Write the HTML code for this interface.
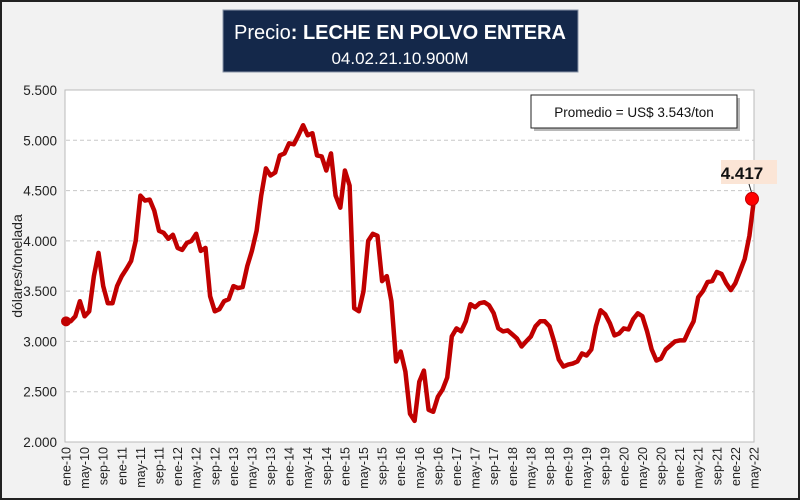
<!DOCTYPE html>
<html><head><meta charset="utf-8">
<style>
html,body{margin:0;padding:0;}
body{width:800px;height:500px;overflow:hidden;background:#f2f2f2;font-family:"Liberation Sans",sans-serif;}
#frame{position:absolute;left:0;top:0;width:796px;height:496px;border:2px solid #222;background:#f2f2f2;}
</style></head><body>
<div id="frame"></div>
<svg id="chart" width="800" height="500" style="position:absolute;left:0;top:0">
  <rect x="223" y="10" width="355" height="62" fill="#14284a" stroke="#8a95a8" stroke-width="1"/>
  <text x="400" y="39" text-anchor="middle" fill="#fff" font-size="20">Precio<tspan font-weight="bold">: LECHE EN POLVO ENTERA</tspan></text>
  <text x="400" y="64" text-anchor="middle" fill="#fff" font-size="17">04.02.21.10.900M</text>
  <rect x="65" y="90" width="689" height="352" fill="#fff" stroke="#bbb" stroke-width="1"/>
  <g id="grid"></g>
  <g id="yticks"></g>
  <g id="xticks"></g>
  <text transform="translate(22,266) rotate(-90)" text-anchor="middle" font-size="14" fill="#222">dólares/tonelada</text>
  <path id="line" fill="none" stroke="#c00000" stroke-width="4.5" stroke-linejoin="round"/>
  <rect x="534" y="98" width="206" height="33" fill="#888" opacity="0.6"/>
  <rect x="531" y="95" width="206" height="33" fill="#fff" stroke="#222" stroke-width="1"/>
  <text x="634" y="117" text-anchor="middle" font-size="13.5" fill="#111">Promedio = US$ 3.543/ton</text>
  <rect x="721" y="160" width="56" height="24" fill="#fbe5d6"/>
  <text id="lastlbl" x="742" y="179" text-anchor="middle" font-size="17" font-weight="bold" fill="#111"></text>
  <line id="leader" stroke="#222" stroke-width="1"/>
  <circle id="lastdot" r="6.5" fill="#ff0000" stroke="#c00000" stroke-width="1"/>
  <circle id="firstdot" r="5" fill="#c00000"/>
</svg>
<script>
const prices = [
3200,3200,3250,3400,3250,3300,3650,3880,3550,3380,3380,3550,
3650,3720,3800,4000,4450,4400,4410,4300,4100,4080,4020,4060,
3930,3910,3980,4000,4070,3900,3930,3450,3300,3320,3400,3420,
3550,3530,3540,3750,3900,4100,4450,4720,4650,4680,4850,4870,
4970,4960,5050,5150,5050,5070,4850,4840,4700,4870,4450,4330,
4700,4550,3330,3300,3500,4000,4070,4050,3600,3650,3400,2800,
2900,2700,2280,2210,2600,2710,2320,2300,2450,2520,2640,3050,
3130,3100,3200,3370,3340,3380,3390,3360,3280,3130,3100,3110,
3070,3030,2950,3000,3050,3150,3200,3200,3150,3000,2820,2750,
2770,2780,2800,2880,2860,2920,3150,3310,3270,3180,3060,3080,
3130,3120,3220,3280,3250,3100,2920,2810,2830,2920,2960,3000,
3010,3010,3110,3200,3440,3500,3590,3600,3690,3670,3580,3510,
3580,3700,3820,4050,4417
];
const yTickValues = [2000,2500,3000,3500,4000,4500,5000,5500];
const yTickLabels = ["2.000","2.500","3.000","3.500","4.000","4.500","5.000","5.500"];
const monthNames = ["ene","feb","mar","abr","may","jun","jul","ago","sep","oct","nov","dic"];
const lastLabel = "4.417";

const NS="http://www.w3.org/2000/svg";
const X0=66,X1=754,Y0=442,Y1=90,YMIN=2000,YMAX=5500;
const n=prices.length;
function xs(i){return X0+(X1-X0)*i/(n-1);}
function ys(v){return Y0-(v-YMIN)/(YMAX-YMIN)*(Y0-Y1);}
function mk(tag,attrs,parent){const e=document.createElementNS(NS,tag);for(const k in attrs)e.setAttribute(k,attrs[k]);parent.appendChild(e);return e;}

const grid=document.getElementById('grid'),yt=document.getElementById('yticks'),xt=document.getElementById('xticks');
yTickValues.forEach((v,i)=>{
  const y=ys(v);
  if(i>0&&i<yTickValues.length-1){
    const g=mk('line',{x1:X0,x2:X1,y1:y,y2:y,stroke:'#c8c8c8','stroke-dasharray':'4,3','stroke-width':1},grid);
    
    
  }
  const t=mk('text',{x:57,y:y+5,'text-anchor':'end','font-size':13.5,fill:'#222'},yt);
  t.textContent=yTickLabels[i];
  
  
});
for(let i=0;i<n;i+=4){
  const x=xs(i)+4.5;
  const lbl=monthNames[i%12]+'-'+String(10+Math.floor(i/12));
  const t=mk('text',{transform:`translate(${x},447) rotate(-90)`,'text-anchor':'end','font-size':12.5,fill:'#222'},xt);
  t.textContent=lbl;
  
  
}
let d='';
prices.forEach((v,i)=>{d+=(i?'L':'M')+xs(i).toFixed(1)+','+ys(v).toFixed(1);});
document.getElementById('line').setAttribute('d',d);
const lx=xs(n-1),ly=ys(prices[n-1]);
const dot=document.getElementById('lastdot');dot.setAttribute('cx',lx-2);dot.setAttribute('cy',ly);
const fd=document.getElementById('firstdot');fd.setAttribute('cx',xs(0));fd.setAttribute('cy',ys(prices[0]));
const ld=document.getElementById('leader');ld.setAttribute('x1',lx-5);ld.setAttribute('y1',184);ld.setAttribute('x2',lx-2);ld.setAttribute('y2',ly-5);
document.getElementById('lastlbl').textContent=lastLabel;
</script>
</body></html>
